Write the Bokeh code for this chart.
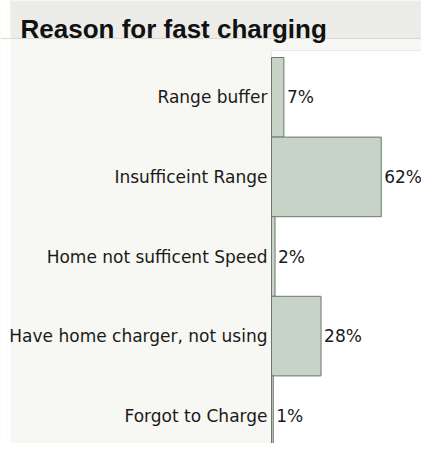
from bokeh.plotting import figure
from bokeh.models import Range1d, ColumnDataSource, Label, Span, BoxAnnotation
from bokeh.core.properties import value
from bokeh.embed import file_html
from bokeh.resources import INLINE

categories = ["Range buffer", "Insufficeint Range", "Home not sufficent Speed",
              "Have home charger, not using", "Forgot to Charge"]
percentages = [7, 62, 2, 28, 1]
title_text = "Reason for fast charging"

positions = list(range(len(categories)))
labels = [f"{v}%" for v in percentages]
src = ColumnDataSource(dict(y=positions, v=percentages, label=labels, cat=categories))

W, H = 421, 443
px_per_pct = 1.77          # horizontal scale
px_per_row = 79.6          # vertical scale
x0_px = 271                # canvas x where 0% sits
row_top_px = 57            # canvas y of top of first bar

x_start = -x0_px / px_per_pct
x_end = (W - x0_px) / px_per_pct
y_top = -0.5 - row_top_px / px_per_row
y_bot = -0.5 + (H - row_top_px) / px_per_row


def ydata(py):
    return -0.5 + (py - row_top_px) / px_per_row


def xdata(px):
    return (px - x0_px) / px_per_pct


p = figure(width=W, height=H, output_backend="svg", toolbar_location=None,
           x_range=Range1d(x_start, x_end), y_range=Range1d(y_bot, y_top),
           x_axis_location=None, y_axis_location=None,
           min_border=0, min_border_left=0, min_border_right=0,
           min_border_top=0, min_border_bottom=0)
p.grid.visible = False
p.background_fill_color = "#f7f7f3"
p.border_fill_color = "#f7f7f3"
p.outline_line_color = None

# white strip at far left
p.add_layout(BoxAnnotation(left=None, right=xdata(10), top=None, bottom=None,
                           fill_color="white", fill_alpha=1.0, line_color=None,
                           level="underlay"))
# title band
p.add_layout(BoxAnnotation(top=None, bottom=ydata(38), left=xdata(10), right=None,
                           fill_color="#ececE8".lower(), fill_alpha=1.0, line_color=None,
                           level="underlay"))
p.add_layout(Span(location=ydata(38), dimension="width", line_color="#d8d8d4",
                  line_width=1, level="underlay"))
p.add_layout(Label(x=xdata(20), y=ydata(28), text=title_text,
                   text_baseline="alphabetic", text_align="left",
                   text_font="Liberation Sans", text_font_style="bold",
                   text_font_size="26px", text_color="#111111"))

# white plot area (right and bottom edges lie beyond the canvas)
p.add_layout(BoxAnnotation(left=0, right=xdata(W + 20), top=ydata(50), bottom=ydata(H + 20),
                           fill_color="white", fill_alpha=1.0,
                           line_color="#c4c4c4", line_width=1, level="underlay"))

p.hbar(y="y", right="v", left=0, height=1.0, source=src,
       fill_color="#c8d3c8", line_color="#6b786b", line_width=1)
p.text(x="v", y="y", text="label", source=src, x_offset=3,
       text_align="left", text_baseline="middle",
       text_font=value("DejaVu Sans"), text_font_size="17px", text_color="#1a1a1a")
p.text(x=0, y="y", text="cat", source=src, x_offset=-4,
       text_align="right", text_baseline="middle",
       text_font=value("DejaVu Sans"), text_font_size="17px", text_color="#1a1a1a")

open("out.html", "w").write(file_html(p, INLINE))
